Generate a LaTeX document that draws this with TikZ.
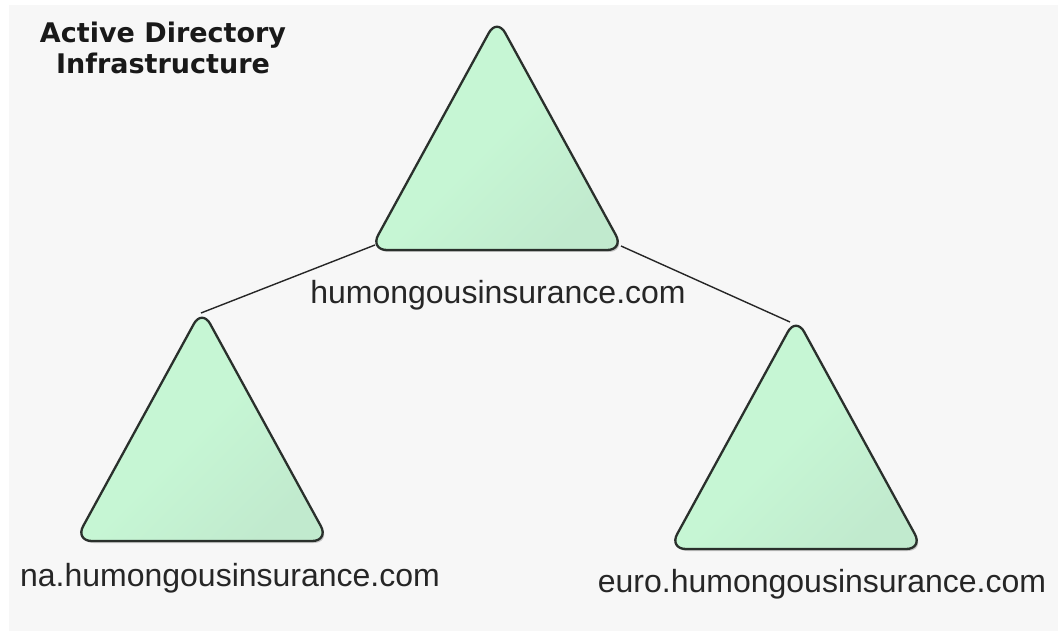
\documentclass[tikz,border=0pt]{standalone}
\usepackage{fontspec}
\setmainfont{Liberation Sans}
\newfontfamily\titlefont{DejaVu Sans}
\usetikzlibrary{shadows}
\definecolor{bgc}{HTML}{F7F7F7}
\definecolor{trifill}{HTML}{C6F6D4}
\definecolor{trifilldark}{HTML}{C1EACE}
\definecolor{triedge}{HTML}{2A302C}
\tikzset{
  tri/.style={draw=triedge, line width=2.3pt, rounded corners=17pt, line join=round,
    left color=trifill, right color=trifilldark, middle color=trifill, shading angle=45,
    drop shadow={shadow xshift=1.5pt, shadow yshift=-2pt, opacity=0.35, fill=black!60}},
  link/.style={draw=black!85, line width=1.4pt},
  lbl/.style={font=\fontsize{32}{36}\selectfont, text=black!85, inner sep=0pt},
  ttl/.style={font=\titlefont\bfseries\fontsize{27}{31}\selectfont, align=center, inner sep=0pt, text=black!90}
}
\newcommand\adtriangle[3]{%
  \coordinate (#1-a) at (#2,#3);
  \coordinate (#1-l) at (#2-127,#3+232);
  \coordinate (#1-r) at (#2+127,#3+232);
  \coordinate (#1-b) at (#2,#3+232);
  \path[tri] (#1-b) -- (#1-l) -- (#1-a) -- (#1-r) -- cycle;
}
\begin{document}
\begin{tikzpicture}[x=1pt,y=-1pt]
  \useasboundingbox (0,0) rectangle (1058,631);
  \fill[white] (0,0) rectangle (1058,631);
  \fill[bgc] (9,5) rectangle (1058,631);
  % anchor coordinates for connectors
  \coordinate (top-lc) at (375,245);
  \coordinate (top-rc) at (621,246);
  \coordinate (na-ap) at (201,313);
  \coordinate (euro-ap) at (790,322);
  \draw[link] (top-lc) -- (na-ap);
  \draw[link] (top-rc) -- (euro-ap);
  \adtriangle{top}{497}{18}
  \adtriangle{na}{202}{309}
  \adtriangle{euro}{796}{317}
  \node[ttl] (title) at (163,48) {Active Directory\\Infrastructure};
  \node[lbl] (toplbl) at (498,295) {humongousinsurance.com};
  \node[lbl] (nalbl) at (230,578) {na.humongousinsurance.com};
  \node[lbl] (eurolbl) at (822,584) {euro.humongousinsurance.com};
\end{tikzpicture}
\end{document}
